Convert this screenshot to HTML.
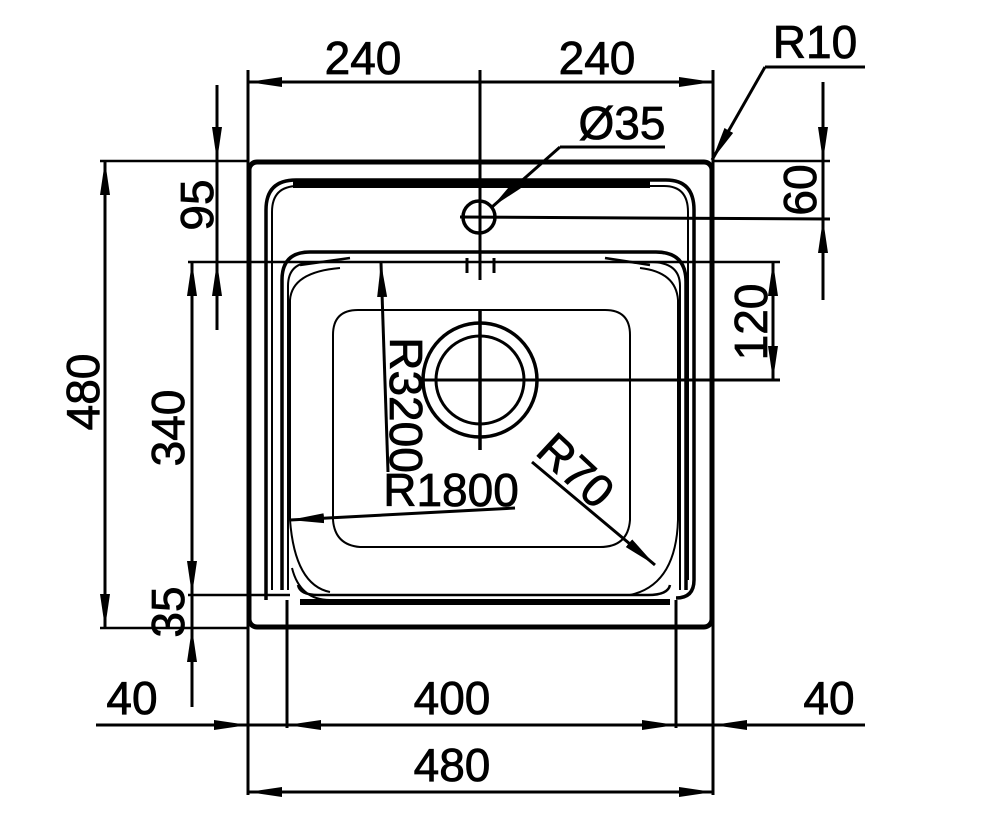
<!DOCTYPE html>
<html><head><meta charset="utf-8"><style>
html,body{margin:0;padding:0;background:#fff;}
svg{display:block;}
text{font-family:"Liberation Sans",Arial,sans-serif;font-size:46px;fill:#000;stroke:#000;stroke-width:0.8px;}
</style></head><body>
<svg width="1000" height="813" viewBox="0 0 1000 813" xmlns="http://www.w3.org/2000/svg">
<defs>
<marker id="a" viewBox="0 0 34 12" refX="34" refY="6" markerWidth="34" markerHeight="12" markerUnits="userSpaceOnUse" orient="auto">
<path d="M0,1 L34,6 L0,11 z" fill="#000"/></marker>
</defs>
<g stroke="#000" fill="none">
<rect x="249" y="162" width="463" height="465" rx="8" stroke-width="5"/>
<path d="M266,600 V210 Q266,180 296,180 H666 Q694,180 694,210 V580 Q694,598 676,598" stroke-width="3.5"/>
<path d="M272,590 V212 Q272,186 298,186 H664 Q688,186 688,212 V580" stroke-width="2"/>
<line x1="293" y1="184" x2="650" y2="184" stroke-width="8"/>
<path d="M282,590 V280 Q282,252 310,252 H656 Q686,252 686,282 V590" stroke-width="3.5"/>
<path d="M288,590 V286 Q288,262 314,262 H650 Q680,262 680,286 V590" stroke-width="2"/>
<path d="M298,585 Q300,595 318,595 H648 Q668,595 670,585" stroke-width="2.5"/>
<line x1="300" y1="602" x2="670" y2="602" stroke-width="6"/>
<path d="M292,568 Q300,600 330,600" stroke-width="2"/>
<path d="M330,592 Q295,585 290,520 V300 Q292,272 340,268" stroke-width="2"/>
<path d="M640,268 Q676,272 678,300 V520 Q676,585 630,595" stroke-width="2"/>
<line x1="300" y1="265" x2="350" y2="258" stroke-width="2.5"/>
<line x1="605" y1="258" x2="650" y2="265" stroke-width="2.5"/>
<path d="M333,520 V335 Q333,310 358,310 H605 Q630,310 630,335 V520 Q628,547 600,547 H360 Q335,545 333,520" stroke-width="2"/>
<circle cx="480" cy="380" r="57" stroke-width="3.5"/>
<circle cx="480" cy="380" r="44" stroke-width="3"/>
<line x1="480" y1="310" x2="480" y2="450" stroke-width="3.5"/>
<line x1="420" y1="380" x2="780" y2="380" stroke-width="3"/>
<circle cx="479" cy="217" r="16" stroke-width="3.5"/>
<line x1="460" y1="217" x2="830" y2="219" stroke-width="3"/>
<line x1="480" y1="70" x2="480" y2="280" stroke-width="3"/>
<line x1="467" y1="258" x2="467" y2="273" stroke-width="3"/>
<line x1="494" y1="258" x2="494" y2="273" stroke-width="3"/>
<line x1="248" y1="70" x2="248" y2="795" stroke-width="3"/>
<line x1="713" y1="70" x2="713" y2="795" stroke-width="3"/>
<line x1="287" y1="600" x2="287" y2="728" stroke-width="3"/>
<line x1="676" y1="600" x2="676" y2="728" stroke-width="3"/>
<line x1="100" y1="161" x2="248" y2="161" stroke-width="2.5"/>
<line x1="713" y1="161" x2="830" y2="161" stroke-width="2.5"/>
<line x1="100" y1="628" x2="248" y2="628" stroke-width="2.5"/>
<line x1="188" y1="262" x2="780" y2="262" stroke-width="2.5"/>
<line x1="188" y1="595" x2="290" y2="595" stroke-width="2.5"/>
<g stroke-width="3">
<line x1="480" y1="82" x2="248" y2="82" marker-end="url(#a)"/>
<line x1="480" y1="82" x2="713" y2="82" marker-end="url(#a)"/>
<line x1="480" y1="792" x2="248" y2="792" marker-end="url(#a)"/>
<line x1="480" y1="792" x2="713" y2="792" marker-end="url(#a)"/>
<line x1="96" y1="725" x2="248" y2="725" marker-end="url(#a)"/>
<line x1="480" y1="725" x2="287" y2="725" marker-end="url(#a)"/>
<line x1="480" y1="725" x2="676" y2="725" marker-end="url(#a)"/>
<line x1="865" y1="725" x2="713" y2="725" marker-end="url(#a)"/>
<line x1="248" y1="725" x2="287" y2="725"/>
<line x1="676" y1="725" x2="713" y2="725"/>
<line x1="105" y1="395" x2="105" y2="161" marker-end="url(#a)"/>
<line x1="105" y1="395" x2="105" y2="628" marker-end="url(#a)"/>
<line x1="217" y1="85" x2="217" y2="161" marker-end="url(#a)"/>
<line x1="217" y1="330" x2="217" y2="262" marker-end="url(#a)"/>
<line x1="217" y1="161" x2="217" y2="262"/>
<line x1="192" y1="430" x2="192" y2="262" marker-end="url(#a)"/>
<line x1="192" y1="430" x2="192" y2="595" marker-end="url(#a)"/>
<line x1="192" y1="707" x2="192" y2="628" marker-end="url(#a)"/>
<line x1="192" y1="595" x2="192" y2="628"/>
<line x1="823" y1="82" x2="823" y2="161" marker-end="url(#a)"/>
<line x1="823" y1="300" x2="823" y2="219" marker-end="url(#a)"/>
<line x1="823" y1="161" x2="823" y2="219"/>
<line x1="773" y1="320" x2="773" y2="262" marker-end="url(#a)"/>
<line x1="773" y1="320" x2="773" y2="380" marker-end="url(#a)"/>
<polyline points="865,67 765,67"/>
<line x1="765" y1="67" x2="712" y2="160" marker-end="url(#a)"/>
<line x1="665" y1="147" x2="560" y2="147"/>
<line x1="560" y1="147" x2="492" y2="207" marker-end="url(#a)"/>
<line x1="388" y1="472" x2="381" y2="263" marker-end="url(#a)"/>
<line x1="515" y1="508" x2="290" y2="520" marker-end="url(#a)"/>
<line x1="532" y1="462" x2="655" y2="565" marker-end="url(#a)"/>
</g>
</g>
<text x="363" y="74" text-anchor="middle">240</text>
<text x="597" y="74" text-anchor="middle">240</text>
<text x="815" y="58" text-anchor="middle">R10</text>
<text x="622" y="139" text-anchor="middle">Ø35</text>
<text x="452" y="714" text-anchor="middle">400</text>
<text x="452" y="781" text-anchor="middle">480</text>
<text x="132" y="714" text-anchor="middle">40</text>
<text x="829" y="714" text-anchor="middle">40</text>
<text x="451" y="506" text-anchor="middle">R1800</text>
<text transform="translate(99,392) rotate(-90)" text-anchor="middle">480</text>
<text transform="translate(184,428) rotate(-90)" text-anchor="middle">340</text>
<text transform="translate(213,205) rotate(-90)" text-anchor="middle">95</text>
<text transform="translate(184,612) rotate(-90)" text-anchor="middle">35</text>
<text transform="translate(816,190) rotate(-90)" text-anchor="middle">60</text>
<text transform="translate(767,322) rotate(-90)" text-anchor="middle">120</text>
<text transform="translate(390,405) rotate(90)" text-anchor="middle">R3200</text>
<text transform="translate(565,482) rotate(43)" text-anchor="middle">R70</text>
</svg>
</body></html>
